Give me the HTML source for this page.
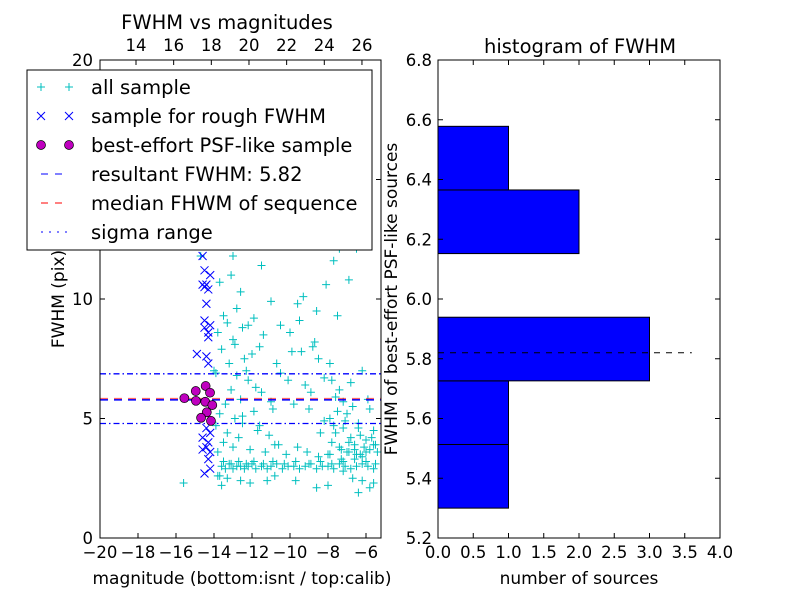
<!DOCTYPE html>
<html><head><meta charset="utf-8"><style>
body{margin:0;background:#fff;}
svg{display:block;font-family:"DejaVu Sans","Liberation Sans",sans-serif;}
</style></head><body>
<svg id="c" width="800" height="600" viewBox="0 0 800 600"></svg>
<script>
// ----- data -----
const allMag = [-13.6,-13.4,-13.2,-13.0,-12.8,-12.6,-12.4,-12.2,-12.0,-11.8,-11.5,-11.2,-11.0,-10.7,-10.4,-10.1,-9.8,-9.5,-9.2,-8.9,-8.6,-8.3,-8.0,-7.7,-7.4,-7.1,-6.8,-6.5,-6.2,-5.9,-5.6,
 -13.5,-13.1,-12.7,-12.3,-11.9,-11.4,-10.9,-10.3,-9.7,-9.0,-8.4,-7.8,-7.2,-6.6,-6.0,-5.5,
 -13.8,-13.5,-13.3,-13.0,-12.7,-12.5,-12.1,-11.7,-11.3,-10.8,-10.2,-9.6,-9.1,-8.5,-7.9,-7.3,-6.9,-6.3,
 -13.7,-13.4,-13.1,-12.9,-12.6,-12.2,-11.9,-11.6,-11.1,-10.6,-13.9,-13.2,-12.8,-12.4,-11.8,-13.6,-13.0,-12.3,-11.5,-10.9,
 -13.8,-13.3,-12.9,-12.5,-12.0,-11.4,-10.7,-10.1,-13.5,-12.8,-12.2,-11.6,-10.5,-9.8,-13.7,-13.1,-12.6,-11.9,-11.0,-9.4,
 -8.0,-7.8,-7.6,-7.4,-7.2,-7.0,-6.8,-6.6,-6.4,-6.2,-6.0,-5.8,-5.6,-5.4,-7.9,-7.5,-7.1,-6.7,-6.3,-5.9,-5.5,-7.7,-7.3,-6.9,-6.5,-6.1,-5.7,-7.6,-7.0,-6.4,-5.8,-8.2,-7.4,-6.6,-5.6,-8.4,-6.8,-6.0,-7.8,-7.2,-6.2,
 -9.2,-8.8,-8.5,-10.0,-9.5,-8.9,-8.6,-10.5,-9.9,-9.0,-8.2,-9.3,-8.7,-7.9,-6.9,-11.0,-9.6,-8.1,-7.5,-6.5,
 -13.6,-13.0,-12.3,-11.5,-10.2,-9.1,-8.3,-7.7,-7.0,-6.2,-13.3,-12.1,-10.8,-9.7,-8.0,-6.7,-5.6,-13.8,-12.6,-11.2,-9.4,-7.4,
 -14.7,-14.2,-13.9,-14.0,-13.6,-8.6,-11.2,-12.5,-7.2,-6.4,-5.8,-15.6,-13.7,-12.9,-9.9,-5.4];
const allFwhm = [3.0,2.9,3.1,2.9,3.0,3.0,2.9,3.0,3.1,2.9,3.0,2.9,3.0,3.1,2.9,3.0,3.0,2.9,3.0,3.1,2.9,3.0,3.0,2.9,3.1,3.0,2.9,3.0,3.1,3.0,2.9,
 3.2,3.1,3.2,3.1,3.2,3.1,3.2,3.1,3.2,3.1,3.2,3.1,3.2,3.3,3.2,3.1,
 3.6,4.0,4.4,3.8,4.2,4.8,3.7,4.5,3.6,3.9,3.5,3.8,3.6,3.4,3.5,3.7,3.6,3.5,
 5.2,5.6,6.2,5.0,5.8,6.6,5.3,4.7,4.3,3.9,6.9,7.3,6.8,7.5,6.3,7.9,8.3,7.0,6.1,5.4,
 8.6,9.0,8.1,8.8,7.7,8.5,7.3,6.6,9.3,9.6,8.9,8.0,6.9,5.6,10.7,11.0,10.3,9.2,9.9,7.8,
 3.5,4.0,4.4,3.8,4.6,3.6,4.2,3.9,4.8,3.4,4.1,3.7,4.5,3.6,5.0,5.3,4.9,5.5,4.3,5.8,3.9,4.7,3.3,4.0,3.5,3.8,4.2,5.9,5.2,4.6,5.4,4.9,6.2,3.7,3.9,4.4,6.5,3.6,6.6,5.7,
 7.0,6.4,8.0,7.5,8.6,9.1,6.1,9.5,8.9,7.8,5.4,6.7,10.1,8.2,7.3,10.8,5.7,9.8,10.6,9.3,
 12.1,13.4,11.8,12.5,11.4,12.8,12.2,13.2,11.6,12.7,2.4,2.5,2.3,2.6,2.4,2.2,2.5,2.3,2.6,2.4,
 13.4,13.2,12.1,11.8,12.8,4.7,7.0,2.2,2.1,2.4,5.1,2.8,1.9,2.1,2.3,2.6];
const roughMag = [-14.6,-14.5,-14.4,-14.6,-14.5,-14.3,-14.2,-14.4,-14.2,-14.3,-14.9,-14.4,-14.5,-14.3,-14.5,-14.3,-14.4,-14.2,-14.6,-14.3,-14.4,-14.2,-14.6,-14.3,-14.2,-14.5];
const roughFwhm = [11.8,11.2,10.6,10.6,10.5,10.4,11.0,9.8,8.9,8.6,7.7,7.6,9.1,8.4,8.8,7.3,4.6,4.4,4.2,4.0,3.8,3.6,3.7,3.3,2.9,2.7];
const bestMag = [-15.56,-14.96,-14.44,-14.21,-14.95,-14.46,-14.09,-14.38,-14.68,-14.16];
const bestFwhm = [5.85,6.15,6.36,6.08,5.74,5.70,5.56,5.26,5.03,4.90];
const resultFwhm = 5.82, medianFwhm = 5.82, sigmaLo = 4.79, sigmaHi = 6.87;
const binEdges = [5.30,5.513,5.726,5.939,6.152,6.365,6.578];
const binCounts = [1,1,3,0,2,1];
const leftXTicks = [-20,-18,-16,-14,-12,-10,-8,-6];
const topXTicks = [14,16,18,20,22,24,26];
const leftYTicks = [0,5,10,15,20];
const rightXTicks = [0.0,0.5,1.0,1.5,2.0,2.5,3.0,3.5,4.0];
const rightYTicks = [5.2,5.4,5.6,5.8,6.0,6.2,6.4,6.6,6.8];

// ----- axes -----
const L={x0:100,x1:381,y0:60,y1:538}, R={x0:438,x1:720,y0:60,y1:538};
const xL=m=>L.x0+(m+20)*19;
const xTop=c=>136+(c-14)*18.83;
const yL=f=>L.y1-f*23.9;
const xR=n=>R.x0+n*(R.x1-R.x0)/4;
const yR=v=>R.y1-(v-5.2)*(R.y1-R.y0)/1.6;
const svg=document.getElementById('c');
const NS='http://www.w3.org/2000/svg';
function mk(tag,at,parent){const e=document.createElementNS(NS,tag);for(const k in at)e.setAttribute(k,at[k]);(parent||svg).appendChild(e);return e;}
function txt(s,x,y,size,anchor,parent){const t=mk('text',{x:x,y:y,'font-size':size,'text-anchor':anchor||'middle',fill:'#000'},parent);t.textContent=s;return t;}
const fmt=v=>(v<0?'\u2212':'')+Math.abs(v);
const TK=16.5, AX=17, TT=19.5, LG=19.5;

// left plot
const gL=mk('g',{});


const clipD=mk('defs',{});
const cp=mk('clipPath',{id:'cl'},clipD);
mk('rect',{x:L.x0,y:L.y0,width:L.x1-L.x0,height:L.y1-L.y0},cp);
const pts=mk('g',{'clip-path':'url(#cl)'},gL);
for(let i=0;i<allMag.length;i++){
 const x=xL(allMag[i]),y=yL(allFwhm[i]);
 const p=mk('path',{d:`M${x-4},${y}H${x+4}M${x},${y-4}V${y+4}`,stroke:'#00bfbf','stroke-width':1},pts);
 
 
}
for(let i=0;i<roughMag.length;i++){
 const x=xL(roughMag[i]),y=yL(roughFwhm[i]);
 const p=mk('path',{d:`M${x-4},${y-4}L${x+4},${y+4}M${x-4},${y+4}L${x+4},${y-4}`,stroke:'#0000ff','stroke-width':1},pts);
 
 
}
const l1=mk('line',{x1:L.x0,x2:L.x1,y1:yL(sigmaHi),y2:yL(sigmaHi),stroke:'#0000ff','stroke-width':1.3,'stroke-dasharray':'6,3,1.5,3'},pts);


const l2=mk('line',{x1:L.x0,x2:L.x1,y1:yL(sigmaLo),y2:yL(sigmaLo),stroke:'#0000ff','stroke-width':1.3,'stroke-dasharray':'6,3,1.5,3'},pts);


const l3=mk('line',{x1:L.x0,x2:L.x1,y1:yL(medianFwhm),y2:yL(medianFwhm),stroke:'#ff0000','stroke-width':2,'stroke-dasharray':'8,6','stroke-opacity':0.6},pts);


const l4=mk('line',{x1:L.x0,x2:L.x1,y1:yL(resultFwhm)+1,y2:yL(resultFwhm)+1,stroke:'#0000ff','stroke-width':1.5,'stroke-dasharray':'8,6'},pts);


for(let i=0;i<bestMag.length;i++){
 const c=mk('circle',{cx:xL(bestMag[i]),cy:yL(bestFwhm[i]),r:4.5,fill:'#bf00bf',stroke:'#000','stroke-width':0.7},pts);
 
 
}
mk('rect',{x:L.x0,y:L.y0,width:L.x1-L.x0,height:L.y1-L.y0,fill:'none',stroke:'#000'},gL);
leftXTicks.forEach(v=>{const x=xL(v);mk('line',{x1:x,x2:x,y1:L.y1,y2:L.y1-5,stroke:'#000'},gL);txt(fmt(v),x,L.y1+20,TK,'middle',gL);});
topXTicks.forEach(v=>{const x=xTop(v);mk('line',{x1:x,x2:x,y1:L.y0,y2:L.y0+5,stroke:'#000'},gL);txt(String(v),x,L.y0-9,TK,'middle',gL);});
leftYTicks.forEach(v=>{const y=yL(v);mk('line',{x1:L.x0,x2:L.x0+5,y1:y,y2:y,stroke:'#000'},gL);mk('line',{x1:L.x1,x2:L.x1-5,y1:y,y2:y,stroke:'#000'},gL);txt(String(v),L.x0-7,y+6,TK,'end',gL);});
const t1=txt('FWHM vs magnitudes',227,29,TT,'middle');
const t2=txt('magnitude (bottom:isnt / top:calib)',242,584,AX,'middle');
const t3=txt('FWHM (pix)',0,0,AX,'middle');t3.setAttribute('transform','translate(64,299) rotate(-90)');

// legend
const lg=mk('g',{});


mk('rect',{x:27,y:70,width:345,height:180,fill:'#fff',stroke:'#000'},lg);
const labels=['all sample','sample for rough FWHM','best-effort PSF-like sample','resultant FWHM: 5.82','median FHWM of sequence','sigma range'];
labels.forEach((s,i)=>{
 const y=87+i*29;
 const g=mk('g',{},lg);
 
 
 [41,69].forEach(x=>{
  if(i===0)mk('path',{d:`M${x-4},${y}H${x+4}M${x},${y-4}V${y+4}`,stroke:'#00bfbf'},g);
  if(i===1)mk('path',{d:`M${x-4},${y-4}L${x+4},${y+4}M${x-4},${y+4}L${x+4},${y-4}`,stroke:'#0000ff'},g);
  if(i===2)mk('circle',{cx:x,cy:y,r:4.5,fill:'#bf00bf',stroke:'#000','stroke-width':0.7},g);
 });
 if(i===3)mk('line',{x1:41,x2:69,y1:y,y2:y,stroke:'#0000ff','stroke-dasharray':'7,7'},g);
 if(i===4)mk('line',{x1:41,x2:69,y1:y,y2:y,stroke:'#ff0000','stroke-dasharray':'7,7'},g);
 if(i===5)mk('line',{x1:41,x2:69,y1:y,y2:y,stroke:'#0000ff','stroke-dasharray':'2,6,2,6'},g);
 txt(s,91,y+7,LG,'start',g);
});

// right plot
const gR=mk('g',{});


for(let i=0;i<binCounts.length;i++){
 if(binCounts[i]===0)continue;
 const b=mk('rect',{x:xR(0),y:yR(binEdges[i+1]),width:xR(binCounts[i])-xR(0),height:yR(binEdges[i])-yR(binEdges[i+1]),fill:'#0000ff',stroke:'#000'},gR);
 
 
}
const hl=mk('line',{x1:xR(0),x2:xR(3.6),y1:yR(resultFwhm),y2:yR(resultFwhm),stroke:'#000','stroke-dasharray':'6,6'},gR);


mk('rect',{x:R.x0,y:R.y0,width:R.x1-R.x0,height:R.y1-R.y0,fill:'none',stroke:'#000'},gR);
rightXTicks.forEach(v=>{const x=xR(v);mk('line',{x1:x,x2:x,y1:R.y1,y2:R.y1-5,stroke:'#000'},gR);mk('line',{x1:x,x2:x,y1:R.y0,y2:R.y0+5,stroke:'#000'},gR);txt(v.toFixed(1),x,R.y1+20,TK,'middle',gR);});
rightYTicks.forEach(v=>{const y=yR(v);mk('line',{x1:R.x0,x2:R.x0+5,y1:y,y2:y,stroke:'#000'},gR);mk('line',{x1:R.x1,x2:R.x1-5,y1:y,y2:y,stroke:'#000'},gR);txt(v.toFixed(1),R.x0-6,y+6,TK,'end',gR);});
const t4=txt('histogram of FWHM',580,53,TT,'middle');
const t5=txt('number of sources',579,584,AX,'middle');
const t6=txt('FWHM of best-effort PSF-like sources',0,0,AX,'middle');t6.setAttribute('transform','translate(397,299) rotate(-90)');
</script>
</body></html>
